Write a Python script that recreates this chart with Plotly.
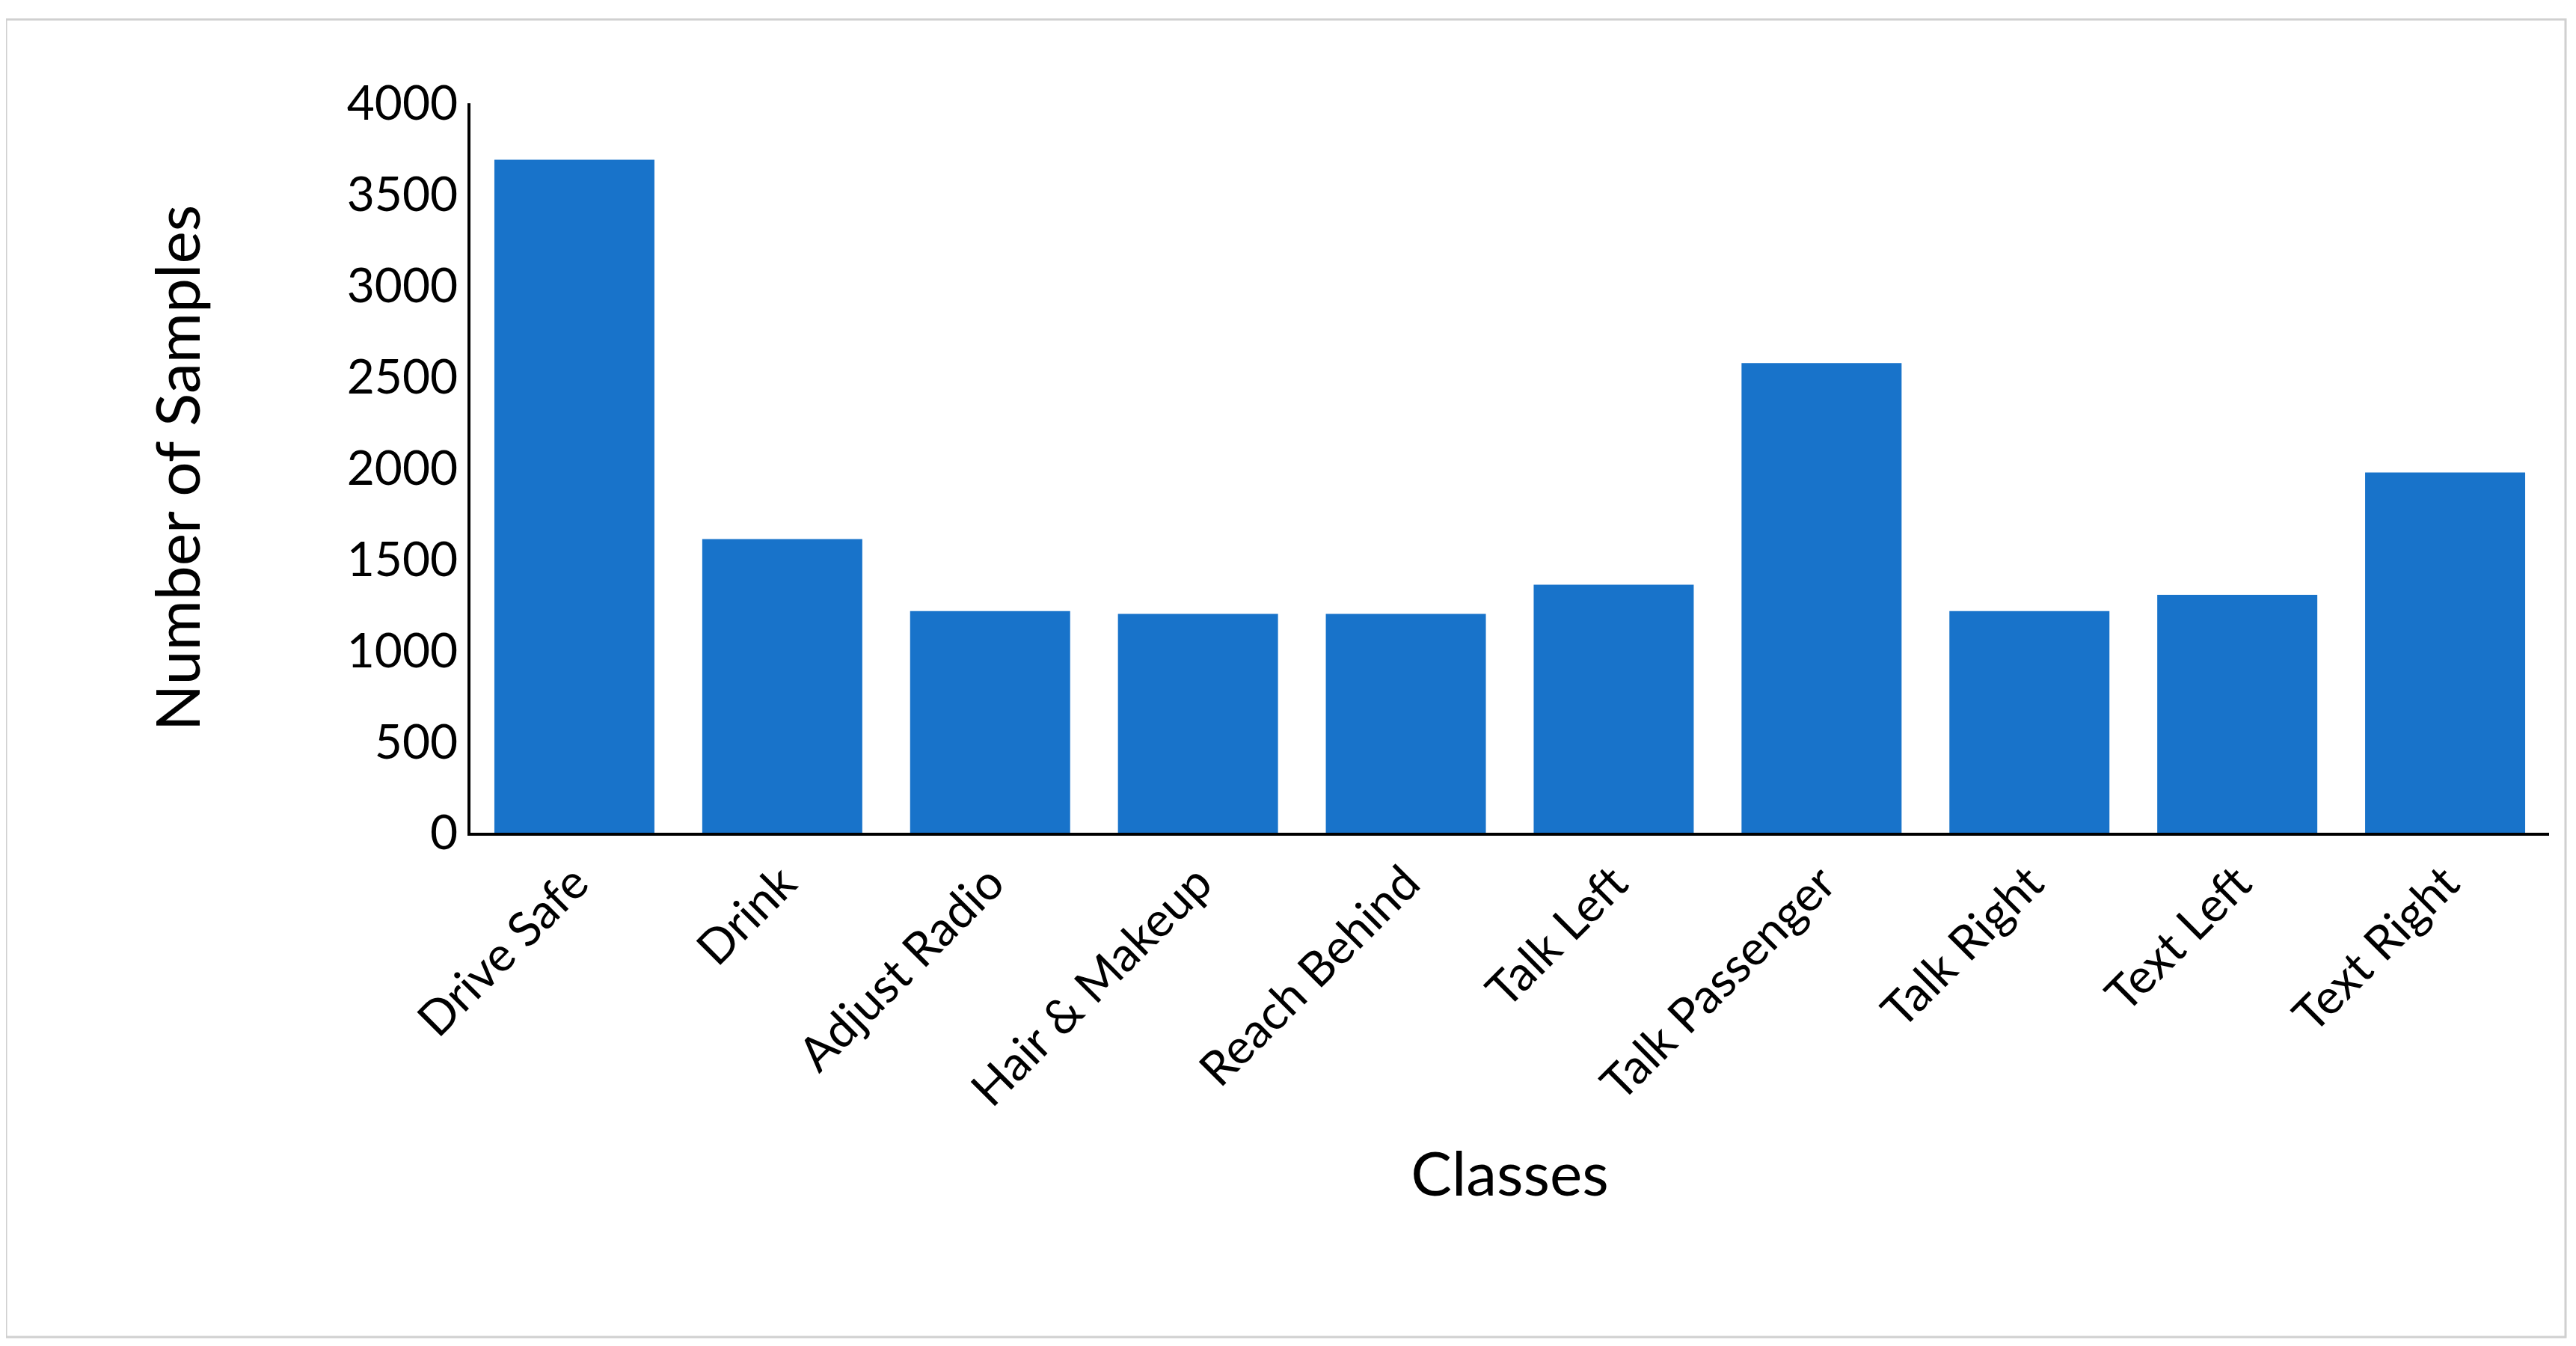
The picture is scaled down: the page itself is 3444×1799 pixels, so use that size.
import plotly.graph_objects as go

classes = ["Drive Safe", "Drink", "Adjust Radio", "Hair & Makeup", "Reach Behind",
           "Talk Left", "Talk Passenger", "Talk Right", "Text Left", "Text Right"]
samples = [3690, 1610, 1215, 1200, 1200, 1360, 2575, 1215, 1305, 1975]
y_ticks = [0, 500, 1000, 1500, 2000, 2500, 3000, 3500, 4000]

W, H = 3444, 1799
fig = go.Figure(go.Bar(x=classes, y=samples, marker_color="#1873CA", marker_line_width=0))

font = dict(family="Lato, Open Sans, sans-serif", color="black")
fig.update_layout(
    width=W, height=H,
    paper_bgcolor="white", plot_bgcolor="white",
    margin=dict(l=621, r=44, t=130, b=H - 1105),
    bargap=0.23,
    showlegend=False,
    font=dict(size=64, **font),
)
fig.update_xaxes(
    showline=True, linecolor="black", linewidth=4, showgrid=False,
    tickangle=-45, tickfont=dict(size=64, **font), ticks="",
    title=dict(text="Classes", font=dict(size=82, **font), standoff=50),
)
fig.update_yaxes(
    range=[0, 4000], tickvals=y_ticks, showline=True, linecolor="black", linewidth=4,
    showgrid=False, zeroline=False, ticks="", tickfont=dict(size=64, **font),
    title=dict(text="Number of Samples", font=dict(size=82, **font), standoff=170),
)
# light grey frame around the whole chart
fig.add_shape(type="rect", xref="paper", yref="paper",
              x0=-621 / (W - 665), x1=1 + 22 / (W - 665),
              y0=-(1779 - 1105) / 975, y1=1 + 112 / 975,
              line=dict(color="#D0D0D0", width=3))
fig.write_html("out.html")
